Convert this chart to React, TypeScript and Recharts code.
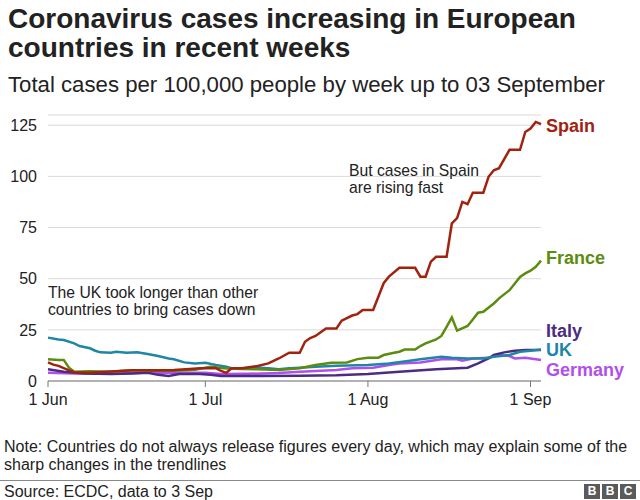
import React from 'react';
import { LineChart, Line, XAxis, YAxis, CartesianGrid } from 'recharts';

// days counted from 1 Jun (0) to 3 Sep (94)
const monthTickDays = [0, 30, 61, 92];
const monthTickLabels = ['1 Jun', '1 Jul', '1 Aug', '1 Sep'];
const caseTicks = [0, 25, 50, 75, 100, 125];

const spainDays = [0, 1, 2, 4, 5, 8, 12, 16, 20, 24, 27, 29, 31, 32, 33, 34, 35, 37, 39, 40, 42, 44, 46, 48, 49, 50, 51, 53, 55, 56, 58, 59, 60, 62, 64, 65, 67, 70, 71, 72, 73, 74, 76, 77, 78, 79, 80, 81, 83, 84, 85, 86, 88, 90, 91, 92, 93, 94];
const spainCases = [9.1, 8, 7.4, 5.2, 4.3, 4, 4.6, 5.2, 5.2, 5.4, 5.9, 6.2, 6.2, 6.3, 4.9, 4.0, 6.2, 6.2, 7.0, 7.3, 8.6, 11, 13.8, 13.8, 19.2, 21, 22, 25.7, 25.7, 29.5, 32, 32.7, 34.7, 34.7, 47.8, 51, 55.3, 55.3, 51, 51, 58.3, 60.7, 60.7, 77, 79.6, 87.5, 86.4, 92, 92, 99.8, 103, 104, 113, 113, 121.7, 123.4, 126.6, 125.5];

const franceDays = [0, 2, 3, 4, 5, 8, 12, 16, 20, 24, 28, 30, 31, 33, 35, 40, 44, 48, 51, 54, 57, 59, 61, 63, 64, 66, 67, 68, 70, 71, 72, 74, 75, 76, 77, 78, 80, 81, 82, 83, 85, 86, 88, 90, 91, 92, 93, 94];
const franceCases = [10.6, 10.3, 10.3, 6.5, 4.5, 4.8, 4.5, 5.2, 5.0, 5.0, 5.5, 6.5, 7.0, 6.3, 6.0, 5.7, 5.4, 6.2, 7.8, 8.9, 9.1, 10.7, 11.4, 11.4, 12.7, 13.8, 14.3, 15.4, 15.4, 17.1, 18.4, 20.3, 22, 26.5, 31.1, 24.6, 26.9, 30.1, 33.4, 33.8, 37.9, 40.4, 44.4, 50.9, 52.6, 53.9, 55.8, 58.8];

const ukDays = [0, 2, 3, 5, 6, 8, 9, 10, 12, 13, 15, 17, 19, 21, 23, 24, 26, 28, 30, 32, 34, 35, 37, 40, 42, 44, 46, 48, 51, 55, 61, 65, 69, 71, 75, 77, 80, 83, 85, 88, 90, 92, 94];
const ukCases = [21.2, 20.3, 20, 18.4, 17.1, 16, 14.8, 14, 13.8, 14.3, 13.8, 14, 13.2, 12.2, 11, 10.6, 9.1, 8.6, 8.9, 7.8, 7.0, 6.2, 6.2, 6.5, 6.2, 5.7, 6.2, 6.5, 7.0, 7.5, 7.8, 8.6, 9.9, 10.6, 11.9, 11.4, 11, 11, 11.9, 12.7, 14.3, 14.8, 15.4];

const italyDays = [0, 3, 7, 12, 16, 19, 21, 23, 25, 29, 31, 33, 40, 48, 55, 61, 67, 74, 78, 80, 82, 84, 85, 87, 89, 91, 94];
const italyCases = [5.7, 4.5, 3.7, 3.4, 3.7, 4.0, 3.0, 2.4, 3.4, 3.4, 3.0, 2.4, 2.5, 2.6, 2.8, 3.4, 4.5, 5.7, 6.2, 6.5, 8.6, 11, 12.7, 14, 14.8, 15.1, 15.1];

const germanyDays = [0, 5, 10, 15, 20, 25, 30, 33, 38, 44, 48, 52, 55, 58, 62, 65, 67, 71, 75, 78, 79, 81, 84, 86, 88, 89, 91, 94];
const germanyCases = [4.0, 3.7, 3.6, 3.8, 4.2, 4.0, 4.0, 3.4, 3.5, 3.9, 4.5, 5.0, 5.4, 6.2, 6.5, 7.8, 8.6, 9.1, 10.6, 10.6, 9.9, 11, 11.4, 12.7, 12.2, 11, 11.4, 10.3];

const toPoints = (days: number[], cases: number[]) =>
  days.map((day, i) => ({ day, cases: cases[i] }));

// drawn in this order, last on top
const series = [
  { name: 'Germany', color: '#b04fec', data: toPoints(germanyDays, germanyCases), labelDy: 10 },
  { name: 'Italy', color: '#4b2c82', data: toPoints(italyDays, italyCases), labelDy: -19 },
  { name: 'UK', color: '#1f86a6', data: toPoints(ukDays, ukCases), labelDy: 0 },
  { name: 'France', color: '#5b8c0e', data: toPoints(franceDays, franceCases), labelDy: -3 },
  { name: 'Spain', color: '#a1230f', data: toPoints(spainDays, spainCases), labelDy: 1 },
];

const FONT = '"Liberation Sans", Arial, Helvetica, sans-serif';

const EndLabel = ({ x, y, index, name, color, last, dy }: any) => {
  if (index !== last) return null;
  return (
    <text x={x + 5} y={y + dy} dy="0.35em" fill={color} fontSize={18} fontWeight="bold" fontFamily={FONT}>
      {name}
    </text>
  );
};

const App = () => {
  return (
    <div style={{ position: 'absolute', left: 0, top: 0, width: 640, height: 500, background: '#fff', fontFamily: FONT, color: '#222' }}>
      <LineChart width={640} height={420} margin={{ top: 115, right: 99, bottom: 0, left: 0 }}>
        <CartesianGrid vertical={false} stroke="#dadada" />
        <XAxis
          dataKey="day"
          type="number"
          domain={[0, 94]}
          ticks={monthTickDays}
          tickFormatter={(d) => monthTickLabels[monthTickDays.indexOf(d)]}
          height={39}
          stroke="#777"
          tickSize={6}
          tickMargin={7}
          tick={{ fill: '#222', fontSize: 16, fontFamily: FONT }}
        />
        <YAxis
          type="number"
          domain={[0, 130]}
          ticks={caseTicks}
          width={48}
          axisLine={false}
          tickLine={false}
          tickMargin={5}
          tick={{ fill: '#222', fontSize: 16, fontFamily: FONT }}
        />
        {series.map((s) => (
          <Line
            key={s.name}
            data={s.data}
            dataKey="cases"
            type="linear"
            stroke={s.color}
            strokeWidth={2.5}
            dot={false}
            isAnimationActive={false}
            label={(p: any) => (
              <EndLabel {...p} key={s.name + p.index} name={s.name} color={s.color} last={s.data.length - 1} dy={s.labelDy} />
            )}
          />
        ))}
      </LineChart>

      <div style={{ position: 'absolute', left: 8, top: 4, fontSize: 28, fontWeight: 'bold', lineHeight: '29px', color: '#222' }}>
        Coronavirus cases increasing in European
        <br />
        countries in recent weeks
      </div>
      <div style={{ position: 'absolute', left: 8, top: 72, fontSize: 22.2, whiteSpace: 'nowrap' }}>
        Total cases per 100,000 people by week up to 03 September
      </div>

      <div style={{ position: 'absolute', left: 48, top: 284, fontSize: 15.7, lineHeight: '17px', whiteSpace: 'nowrap' }}>
        The UK took longer than other
        <br />
        countries to bring cases down
      </div>
      <div style={{ position: 'absolute', left: 349, top: 162, fontSize: 15.7, lineHeight: '17px', whiteSpace: 'nowrap' }}>
        But cases in Spain
        <br />
        are rising fast
      </div>

      <div style={{ position: 'absolute', left: 4, top: 438, fontSize: 16, lineHeight: '18px', width: 636, whiteSpace: 'nowrap' }}>
        Note: Countries do not always release figures every day, which may explain some of the
        <br />
        sharp changes in the trendlines
      </div>
      <div style={{ position: 'absolute', left: 0, top: 480, width: 640, height: 1, background: '#888' }} />
      <div style={{ position: 'absolute', left: 4, top: 483, fontSize: 16, lineHeight: '18px' }}>
        Source: ECDC, data to 3 Sep
      </div>
      <div style={{ position: 'absolute', left: 584, top: 484, display: 'flex', gap: 2 }}>
        {['B', 'B', 'C'].map((c, i) => (
          <div key={i} style={{ width: 16, height: 15, background: '#5a5a5a', color: '#fff', fontSize: 12, fontWeight: 'bold', lineHeight: '15px', textAlign: 'center' }}>
            {c}
          </div>
        ))}
      </div>
    </div>
  );
};

export default App;
